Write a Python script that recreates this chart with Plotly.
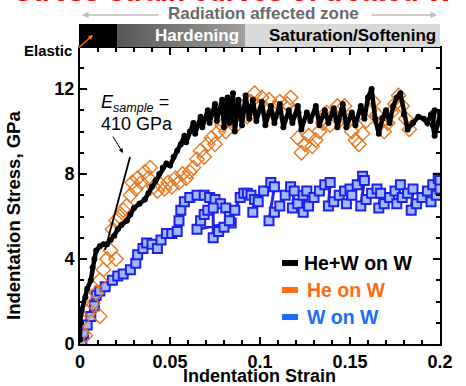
import plotly.graph_objects as go

# ---------------- data ----------------
hew_x = [0.000,0.000,0.001,0.003,0.004,0.006,0.007,0.008,0.009,0.011,0.013,0.015,0.017,0.019,0.021,0.023,0.026,0.028,0.030,0.033,0.036,0.038,0.040,0.042,0.044,0.046,0.048,0.050,0.052,0.054,0.056,
         0.058,0.059,0.061,0.063,0.064,0.067,0.068,0.071,0.072,0.075,0.076,0.079,0.080,0.082,0.083,0.085,0.086,0.088,0.090,0.092,0.094,0.096,0.098,
         0.101,0.103,0.106,0.108,0.111,0.113,0.116,0.118,0.121,0.123,0.126,0.128,0.131,0.133,0.136,0.138,0.141,0.143,0.146,0.148,0.151,0.153,0.156,0.158,0.160,0.162,0.164,0.166,
         0.168,0.170,0.172,0.174,0.176,0.178,0.180,0.182,0.185,0.188,0.191,0.193,0.195,0.197,0.196,0.197,0.199,0.200]
hew_y = [0.2,1.0,1.6,2.2,2.6,3.0,3.6,4.0,4.4,4.6,4.7,4.7,4.9,5.1,5.4,5.6,5.8,6.1,6.4,6.6,6.8,7.1,7.4,7.7,8.0,8.3,8.5,8.4,8.8,9.1,9.4,
         9.8,9.5,10.0,10.4,9.9,10.7,10.2,11.0,10.4,11.3,10.5,11.5,10.2,11.6,10.4,11.8,10.0,11.5,10.3,11.7,10.6,11.5,10.5,
         11.4,10.3,11.2,10.4,11.3,10.2,11.0,10.4,11.2,10.1,10.9,10.5,11.2,10.3,11.0,10.4,11.1,10.2,11.3,10.2,10.9,10.3,11.2,10.6,11.6,12.0,10.6,9.9,
         10.6,11.0,10.4,11.2,11.6,11.8,10.8,10.1,10.4,10.7,10.6,10.4,10.8,11.0,10.3,9.8,10.4,10.9]

he_x = [0.001,0.001,0.003,0.005,0.007,0.009,0.011,0.011,0.013,0.015,0.017,0.018,0.020,0.020,0.022,0.024,0.026,0.028,0.029,0.031,0.032,0.034,0.036,0.038,0.039,
        0.041,0.043,0.045,0.047,0.049,0.051,0.053,0.055,0.057,0.059,0.061,0.063,0.065,0.067,
        0.069,0.071,0.073,0.075,0.077,0.079,0.081,0.083,
        0.085,0.087,0.089,0.091,0.093,0.095,0.097,0.099,0.101,0.103,0.105,0.107,0.109,0.111,0.113,0.115,0.117,0.119,0.121,0.123,0.125,0.127,0.129,0.131,
        0.133,0.135,0.137,0.139,0.141,0.143,0.145,0.147,0.149,0.151,0.153,0.155,0.157,0.159,0.161,0.163,0.165,0.167,0.169,0.171,0.173,0.175,0.177,0.179,0.181,0.183]
he_y = [0.5,1.1,0.4,1.6,1.9,2.4,1.3,3.0,3.5,4.0,4.4,5.4,4.0,5.8,6.0,6.3,6.5,7.0,7.6,7.3,7.8,7.6,8.1,7.8,8.3,
        7.4,7.2,7.5,7.3,7.6,7.4,7.8,7.6,8.0,7.8,8.1,8.3,8.7,9.1,
        8.8,9.4,9.7,9.4,10.0,10.3,10.0,10.6,
        10.6,10.3,10.8,11.2,10.7,11.4,11.8,11.2,11.6,11.1,11.5,10.9,11.1,11.4,10.8,11.3,11.6,10.9,9.7,9.0,9.4,9.8,9.3,9.6,
        10.0,10.4,10.9,10.3,10.8,11.2,10.6,11.2,10.5,10.0,9.6,9.4,9.9,10.5,11.0,11.4,10.8,10.4,10.0,10.4,10.9,11.3,11.7,11.2,10.6,10.1]

w_x = [0.001,0.002,0.004,0.006,0.008,0.009,0.011,0.014,0.018,0.021,0.024,0.028,0.031,0.032,0.035,0.037,0.040,0.043,0.045,0.048,0.051,0.054,0.055,0.056,0.058,
       0.061,0.065,0.069,0.072,0.075,0.078,0.081,0.083,0.084,
       0.065,0.067,0.069,0.071,0.074,
       0.074,0.077,0.080,0.083,0.086,0.089,0.091,0.093,0.095,0.097,
       0.096,0.099,0.102,0.106,0.108,
       0.105,0.108,0.111,0.114,0.117,0.119,
       0.118,0.121,0.124,0.126,
       0.124,0.127,0.130,0.133,0.136,0.139,
       0.138,0.141,0.144,0.147,0.150,
       0.148,0.151,0.154,0.157,0.158,
       0.156,0.159,0.162,0.165,0.167,
       0.166,0.169,0.172,0.175,0.178,
       0.176,0.179,0.182,0.185,
       0.184,0.187,0.190,0.193,0.196,0.199,0.200,
       0.195,0.198,0.200]
w_y = [0.0,0.5,0.9,1.3,1.8,2.3,2.5,2.7,3.0,3.2,3.3,3.5,3.8,4.2,4.5,4.75,4.7,4.5,4.9,5.2,5.2,5.3,5.8,6.3,6.7,
       6.9,7.0,7.0,6.9,6.8,6.6,6.4,6.0,5.7,
       5.4,5.8,6.1,6.3,6.4,
       5.0,5.3,5.5,5.8,6.3,6.9,7.1,7.1,7.0,6.8,
       6.2,6.7,7.2,7.6,7.4,
       5.8,6.2,6.5,7.0,7.4,7.2,
       6.4,6.6,7.0,7.2,
       6.2,6.5,6.9,7.2,7.5,7.6,
       6.5,6.7,7.0,7.2,7.3,
       6.6,7.0,7.5,7.9,7.7,
       6.5,6.8,7.1,7.3,7.1,
       6.4,6.6,6.9,7.2,7.5,
       6.6,6.9,7.1,7.3,
       6.3,6.6,6.9,7.2,7.5,7.8,7.7,
       6.7,7.0,7.3]

e_line_x = [0.0139, 0.0278]
e_line_y = [4.42, 8.80]

x_ticks = [0, 0.05, 0.1, 0.15, 0.2]
x_labels = ["0", "0.05", "0.1", "0.15", "0.2"]
y_ticks = [0, 4, 8, 12]
y_labels = ["0", "4", "8", "12"]

legend_names = ["He+W on W", "He on W", "W on W"]
legend_colors = ["#000000", "#ff6a13", "#1a6dff"]

# ---------------- geometry helpers ----------------
W, H = 466, 386
L, R, T, B = 80, 440, 48, 344


def px(xp):
    return (xp - L) / (R - L)


def py(yp):
    return (B - yp) / (B - T)


def arrow(tail, head, color, width, size):
    return dict(text="", xref="paper", yref="paper", x=px(head[0]), y=py(head[1]),
                ax=tail[0] - head[0], ay=tail[1] - head[1],
                showarrow=True, arrowhead=2, arrowsize=size, arrowwidth=width, arrowcolor=color)


FONT = "Arial, Liberation Sans, sans-serif"

fig = go.Figure()

# data traces
fig.add_trace(go.Scatter(x=w_x, y=w_y, mode="lines+markers",
                         line=dict(color="#2222e8", width=3),
                         marker=dict(symbol="square", size=9, color="#9dbcff",
                                     line=dict(color="#1f1fef", width=2)),
                         showlegend=False))
fig.add_trace(go.Scatter(x=he_x, y=he_y, mode="markers",
                         marker=dict(symbol="diamond-open", size=11, color="#e8771e",
                                     line=dict(color="#e8771e", width=1.4)),
                         showlegend=False))
fig.add_trace(go.Scatter(x=hew_x, y=hew_y, mode="lines+markers",
                         line=dict(color="black", width=4.5),
                         marker=dict(symbol="circle", size=6, color="black"),
                         showlegend=False))
fig.add_trace(go.Scatter(x=e_line_x, y=e_line_y, mode="lines",
                         line=dict(color="black", width=1.8), showlegend=False))

shapes = []
annotations = []

# header bars
shapes.append(dict(type="rect", xref="paper", yref="paper", x0=px(79), x1=px(117), y0=py(47), y1=py(24),
                   fillcolor="black", line=dict(width=0), layer="above"))
nsteps = 32
for i in range(nsteps):
    a = px(117 + (245 - 117) * i / nsteps)
    b = px(117 + (245 - 117) * (i + 1) / nsteps + 0.5)
    c = int(88 + (158 - 88) * i / (nsteps - 1))
    shapes.append(dict(type="rect", xref="paper", yref="paper", x0=a, x1=b, y0=py(47), y1=py(24),
                       fillcolor=f"rgb({c},{c},{c})", line=dict(width=0), layer="above"))
shapes.append(dict(type="rect", xref="paper", yref="paper", x0=px(245), x1=px(440), y0=py(47), y1=py(24),
                   fillcolor="#d9d9d9", line=dict(width=0), layer="above"))

# legend bars
leg_y = [263, 290, 317]
for yy, col in zip(leg_y, legend_colors):
    shapes.append(dict(type="rect", xref="paper", yref="paper", x0=px(282), x1=px(298),
                       y0=py(yy + 3), y1=py(yy - 3), fillcolor=col, line=dict(width=0)))
leg_x = [302, 305, 305]
for name, col, xx, yy in zip(legend_names, legend_colors, leg_x, leg_y):
    annotations.append(dict(text=f"<b>{name}</b>", xref="paper", yref="paper", x=px(xx), y=py(yy),
                            xanchor="left", yanchor="middle", showarrow=False,
                            font=dict(family=FONT, size=19.5, color=col)))

# title (cut off at top)
annotations.append(dict(text="<b>Stress-strain curves of treated W</b>", xref="paper", yref="paper",
                        x=px(12), y=py(-9), xanchor="left", yanchor="middle", showarrow=False,
                        font=dict(family=FONT, size=28, color="#ff0000")))

# radiation affected zone
annotations.append(dict(text="<b>Radiation affected zone</b>", xref="paper", yref="paper",
                        x=px(263), y=py(14), xanchor="center", yanchor="middle", showarrow=False,
                        font=dict(family=FONT, size=17, color="#6a6a6a")))
annotations.append(arrow((160, 15), (82, 15), "#bdbdbd", 1.3, 1))
annotations.append(arrow((370, 15), (437, 15), "#bdbdbd", 1.3, 1))
annotations.append(dict(text="<b>Hardening</b>", xref="paper", yref="paper", x=px(241), y=py(36),
                        xanchor="right", yanchor="middle", showarrow=False,
                        font=dict(family=FONT, size=17, color="white")))
annotations.append(dict(text="<b>Saturation/Softening</b>", xref="paper", yref="paper", x=px(438), y=py(36),
                        xanchor="right", yanchor="middle", showarrow=False,
                        font=dict(family=FONT, size=17, color="black")))
annotations.append(dict(text="<b>Elastic</b>", xref="paper", yref="paper", x=px(74), y=py(50),
                        xanchor="right", yanchor="middle", showarrow=False,
                        font=dict(family=FONT, size=15, color="black")))
annotations.append(arrow((77, 49), (93, 35), "#e8801f", 1.2, 0.8))

# E_sample
annotations.append(dict(text="<i>E</i><sub><i>sample</i></sub> =", xref="paper", yref="paper",
                        x=px(99), y=py(104), xanchor="left", yanchor="middle", showarrow=False,
                        font=dict(family=FONT, size=18, color="black")))
annotations.append(dict(text="410 GPa", xref="paper", yref="paper",
                        x=px(99), y=py(124), xanchor="left", yanchor="middle", showarrow=False,
                        font=dict(family=FONT, size=18, color="black")))
annotations.append(arrow((112, 135), (123, 153), "black", 1, 0.9))

# axis titles
annotations.append(dict(text="<b>Indentation Stress, GPa</b>", xref="paper", yref="paper",
                        x=px(13), y=py(216), xanchor="center", yanchor="middle", textangle=-90,
                        showarrow=False, font=dict(family=FONT, size=18.5, color="black")))
annotations.append(dict(text="<b>Indentation Strain</b>", xref="paper", yref="paper",
                        x=px(259), y=py(376), xanchor="center", yanchor="middle",
                        showarrow=False, font=dict(family=FONT, size=18, color="black")))

fig.update_layout(
    width=W, height=H,
    margin=dict(l=L, r=W - R, t=T, b=H - B, pad=0),
    plot_bgcolor="white", paper_bgcolor="white",
    shapes=shapes, annotations=annotations,
    showlegend=False,
    xaxis=dict(range=[0, 0.2], tickvals=x_ticks, ticktext=x_labels,
               ticks="inside", ticklen=7, tickwidth=2, tickcolor="black",
               showline=True, linewidth=2, linecolor="black", mirror="allticks",
               showgrid=False, zeroline=False,
               tickfont=dict(family=FONT, size=18, color="black", weight="bold"),
               minor=dict(dtick=0.01, tick0=0, ticks="inside", ticklen=4, tickwidth=1.5, tickcolor="black",
                          showgrid=False)),
    yaxis=dict(range=[0, 13.93], tickvals=y_ticks, ticktext=y_labels,
               ticks="inside", ticklen=7, tickwidth=2, tickcolor="black",
               showline=True, linewidth=2, linecolor="black", mirror="allticks",
               showgrid=False, zeroline=False,
               tickfont=dict(family=FONT, size=18, color="black", weight="bold"),
               minor=dict(dtick=1, tick0=0, ticks="inside", ticklen=4, tickwidth=1.5, tickcolor="black",
                          showgrid=False)),
)

fig.write_html("out.html")
